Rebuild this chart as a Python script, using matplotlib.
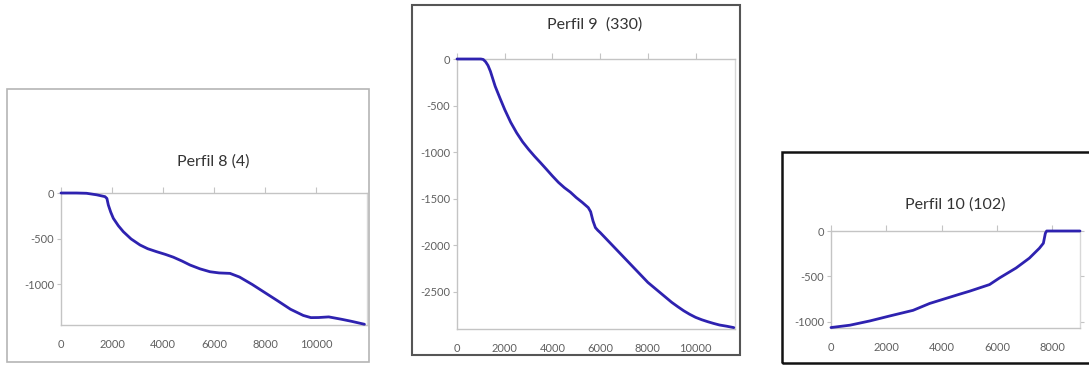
import matplotlib
matplotlib.use("Agg")
import matplotlib.pyplot as plt
from matplotlib.patches import Rectangle

plt.rcParams['font.family'] = ['Lato', 'DejaVu Sans']
plt.rcParams['axes.unicode_minus'] = False

# ---- data ----
titles = ["Perfil 8 (4)", "Perfil 9  (330)", "Perfil 10 (102)"]

p8_x = [0, 600, 1000, 1400, 1725, 1800, 1856, 1950, 2052, 2250, 2444, 2750,
        3098, 3400, 3752, 4100, 4405, 4750, 5059, 5450, 5843, 6200, 6627,
        7000, 7500, 8000, 8500, 9000, 9500, 9800, 10100, 10500, 11000, 11400,
        11900]
p8_y = [0, 0, -3, -20, -40, -60, -132, -210, -278, -360, -425, -505,
        -571, -612, -645, -675, -705, -748, -791, -833, -865, -878, -883,
        -923, -1005, -1095, -1185, -1277, -1345, -1369, -1368, -1361, -1387,
        -1410, -1442]

p9_x = [0, 1000, 1100, 1200, 1300, 1400, 1600, 1800, 2000, 2250, 2500, 2750,
        3000, 3250, 3500, 3750, 4000, 4250, 4500, 4750, 5000, 5250, 5500,
        5600, 5700, 5800, 5900, 6000, 6500, 7000, 7500, 8000, 8500, 9000,
        9250, 9500, 9750, 10000, 10250, 10500, 10750, 11000, 11300, 11600]
p9_y = [0, 0, -5, -30, -70, -132, -293, -420, -543, -680, -793, -890,
        -971, -1045, -1114, -1185, -1257, -1325, -1382, -1430, -1489, -1540,
        -1596, -1640, -1740, -1811, -1840, -1864, -1998, -2132, -2266, -2400,
        -2507, -2614, -2660, -2704, -2742, -2775, -2800, -2821, -2840, -2857,
        -2870, -2885]

p10_x = [0, 685, 1405, 2126, 2967, 3568, 4288, 4649, 5009, 5730, 6090, 6690,
         7171, 7532, 7676, 7748, 7795, 8500, 9000]
p10_y = [-1065, -1039, -992, -937, -875, -799, -731, -697, -664, -591, -518,
         -408, -299, -190, -135, -25, 0, 0, 0]

x_ticks = [[0, 2000, 4000, 6000, 8000, 10000],
           [0, 2000, 4000, 6000, 8000, 10000],
           [0, 2000, 4000, 6000, 8000]]
y_ticks = [[0, -500, -1000],
           [0, -500, -1000, -1500, -2000, -2500],
           [0, -500, -1000]]
xlims = [(0, 12000), (0, 11650), (0, 9000)]
ylims = [(-1450, 0), (-2900, 0), (-1070, 0)]

series = [(p8_x, p8_y), (p9_x, p9_y), (p10_x, p10_y)]

W, H = 1089, 366
fig = plt.figure(figsize=(W / 100, H / 100), dpi=100)
fig.patch.set_facecolor('white')

def frac_rect(x0, y0, x1, y1):
    return [x0 / W, 1 - y1 / H, (x1 - x0) / W, (y1 - y0) / H]

# panel boxes (pixel coordinates)
boxes = [((7, 89, 369, 362), '#b5b5b5', 1.2),
         ((412, 5, 740, 355), '#555555', 1.5),
         ((782, 152, 1095, 363), '#111111', 1.8)]
for (x0, y0, x1, y1), col, lw in boxes:
    r = Rectangle((x0 / W, 1 - y1 / H), (x1 - x0) / W, (y1 - y0) / H,
                  transform=fig.transFigure, fill=False, edgecolor=col,
                  linewidth=lw, zorder=0)
    fig.patches.append(r)

axes_px = [(61, 193, 367, 325), (457, 59, 735, 329), (831, 231, 1080, 328)]
title_pos = [(213, 162), (595, 25), (955, 205)]

axis_col = '#c4c4c4'
label_col = '#606060'
line_col = '#2e22b0'

for i, (rect, (xs, ys)) in enumerate(zip(axes_px, series)):
    ax = fig.add_axes(frac_rect(*rect))
    ax.set_facecolor('none')
    ax.plot(xs, ys, color=line_col, linewidth=2.0, solid_capstyle='round',
            solid_joinstyle='round', clip_on=False, zorder=5)
    ax.set_xlim(*xlims[i])
    ax.set_ylim(*ylims[i])
    ax.set_xticks(x_ticks[i])
    ax.set_yticks(y_ticks[i])
    ax.set_xticklabels([str(v) for v in x_ticks[i]])
    ax.set_yticklabels([str(v) for v in y_ticks[i]])
    for s in ['left', 'top', 'bottom', 'right']:
        ax.spines[s].set_color(axis_col)
        ax.spines[s].set_linewidth(1.0)
    ax.spines['right'].set_color('#d8d8d8')
    ax.tick_params(axis='x', top=True, bottom=False, labeltop=False,
                   labelbottom=True, direction='out', length=4,
                   color=axis_col, labelsize=8, labelcolor=label_col, pad=6)
    ax.tick_params(axis='y', left=True, direction='out', length=3,
                   color=axis_col, labelsize=8, labelcolor=label_col, pad=2)
    if i == 2:
        ax.tick_params(axis='y', right=True)
    fig.text(title_pos[i][0] / W, 1 - title_pos[i][1] / H, titles[i],
             ha='center', va='center', fontsize=11.5, color='#333333')

fig.savefig('out.png', dpi=100, facecolor='white')
